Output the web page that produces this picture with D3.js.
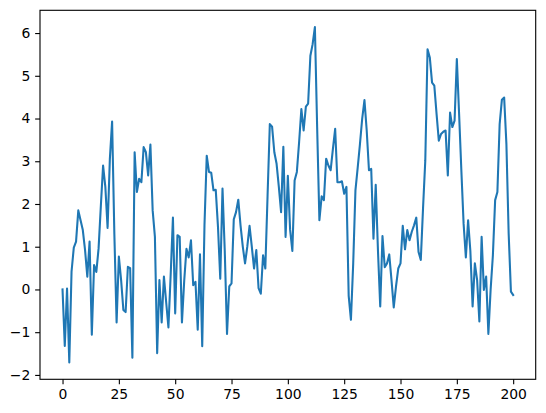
<!DOCTYPE html>
<html>
<head>
<meta charset="utf-8">
<script src="https://cdn.jsdelivr.net/npm/d3@7"></script>
<style>
  html, body { margin: 0; padding: 0; background: #fff; }
  svg { display: block; }
  text { font-family: "DejaVu Sans", sans-serif; font-size: 13.9px; fill: #000; }
</style>
</head>
<body>
<svg id="chart" width="546" height="413"></svg>
<script>
const values = [
  0.0, -1.32, 0.02, -1.71, 0.42, 0.98, 1.12, 1.85, 1.62, 1.39,
  0.92, 0.30, 1.12, -1.06, 0.57, 0.41, 0.96, 1.95, 2.90, 2.40,
  1.44, 3.05, 3.93, 1.30, -0.77, 0.77, 0.22, -0.48, -0.53, 0.53,
  0.50, -1.60, 3.21, 2.28, 2.59, 2.51, 3.33, 3.21, 2.67, 3.39,
  1.85, 1.23, -1.49, 0.22, -0.77, 0.30, -0.30, -0.89, 0.35, 1.68,
  -0.56, 1.27, 1.23, -0.77, 0.20, 0.95, 0.75, 1.15, 0.10, 0.18,
  -0.94, 0.82, -1.33, 1.50, 3.13, 2.75, 2.73, 2.32, 2.33, 1.46,
  0.25, 2.36, 0.90, -1.04, 0.07, 0.14, 1.64, 1.81, 2.10, 1.50,
  1.00, 0.61, 1.00, 1.49, 1.00, 0.49, 0.92, 0.03, -0.10, 0.80,
  0.49, 2.20, 3.87, 3.81, 3.21, 2.94, 2.40, 1.81, 3.34, 1.23,
  2.66, 1.40, 0.90, 2.55, 2.75, 3.45, 4.22, 3.72, 4.28, 4.35,
  5.47, 5.74, 6.14, 3.80, 1.62, 2.18, 2.09, 3.06, 2.90, 2.79,
  3.29, 3.76, 2.51, 2.51, 2.53, 2.24, 2.40, -0.15, -0.71, 0.60,
  2.32, 2.85, 3.40, 4.00, 4.43, 3.72, 2.79, 2.82, 1.19, 2.45,
  0.90, -0.40, 1.25, 0.52, 0.61, 0.82, 0.22, -0.42, 0.07, 0.49,
  0.61, 1.49, 0.94, 1.39, 1.15, 1.35, 1.50, 1.68, 0.88, 0.69,
  1.90, 3.02, 5.62, 5.43, 4.84, 4.77, 4.11, 3.48, 3.64, 3.69,
  3.72, 2.67, 4.14, 3.80, 3.95, 5.39, 4.11, 2.79, 1.54, 0.75,
  1.62, 0.90, -0.40, 0.61, 0.22, -0.75, 1.23, -0.01, 0.30, -1.04,
  0.00, 0.80, 2.09, 2.28, 3.87, 4.44, 4.49, 3.40, 1.31, -0.05,
  -0.13
];
const xIndex = values.map((v, i) => i);
const xTicks = [0, 25, 50, 75, 100, 125, 150, 175, 200];
const yTicks = [-2, -1, 0, 1, 2, 3, 4, 5, 6];

const svg = d3.select("#chart");
const plotLeft = 40, plotRight = 535.7, plotTop = 10.3, plotBottom = 379.3;

const xExt = d3.extent(xIndex);
const xPad = (xExt[1] - xExt[0]) * 0.05;
const yExt = d3.extent(values);
const yPad = (yExt[1] - yExt[0]) * 0.05;

const x = d3.scaleLinear().domain([xExt[0] - xPad, xExt[1] + xPad]).range([plotLeft, plotRight]);
const y = d3.scaleLinear().domain([yExt[0] - yPad, yExt[1] + yPad]).range([plotBottom, plotTop]);

const tickFmt = d => d < 0 ? "\u2212" + Math.abs(d) : String(d);

// line
svg.append("path")
  .datum(values)
  .attr("fill", "none")
  .attr("stroke", "#1f77b4")
  .attr("stroke-width", 2.08)
  .attr("stroke-linejoin", "round")
  .attr("stroke-linecap", "square")
  .attr("d", d3.line().x((d, i) => x(xIndex[i])).y(d => y(d)));

// axes
const xAxis = svg.append("g")
  .attr("transform", `translate(0,${plotBottom})`)
  .call(d3.axisBottom(x).tickValues(xTicks).tickFormat(tickFmt).tickSize(4.86).tickPadding(4.86));
const yAxis = svg.append("g")
  .attr("transform", `translate(${plotLeft},0)`)
  .call(d3.axisLeft(y).tickValues(yTicks).tickFormat(tickFmt).tickSize(4.86).tickPadding(4.86));

[xAxis, yAxis].forEach(g => {
  g.select(".domain").remove();
  g.selectAll(".tick line").attr("stroke", "#000").attr("stroke-width", 1.11);
  g.selectAll(".tick text")
    .attr("font-family", "DejaVu Sans, sans-serif")
    .attr("font-size", "13.9px")
    .attr("fill", "#000");
});

// frame
svg.append("rect")
  .attr("x", plotLeft).attr("y", plotTop)
  .attr("width", plotRight - plotLeft).attr("height", plotBottom - plotTop)
  .attr("fill", "none")
  .attr("stroke", "#000")
  .attr("stroke-width", 1.11);
</script>
</body>
</html>
